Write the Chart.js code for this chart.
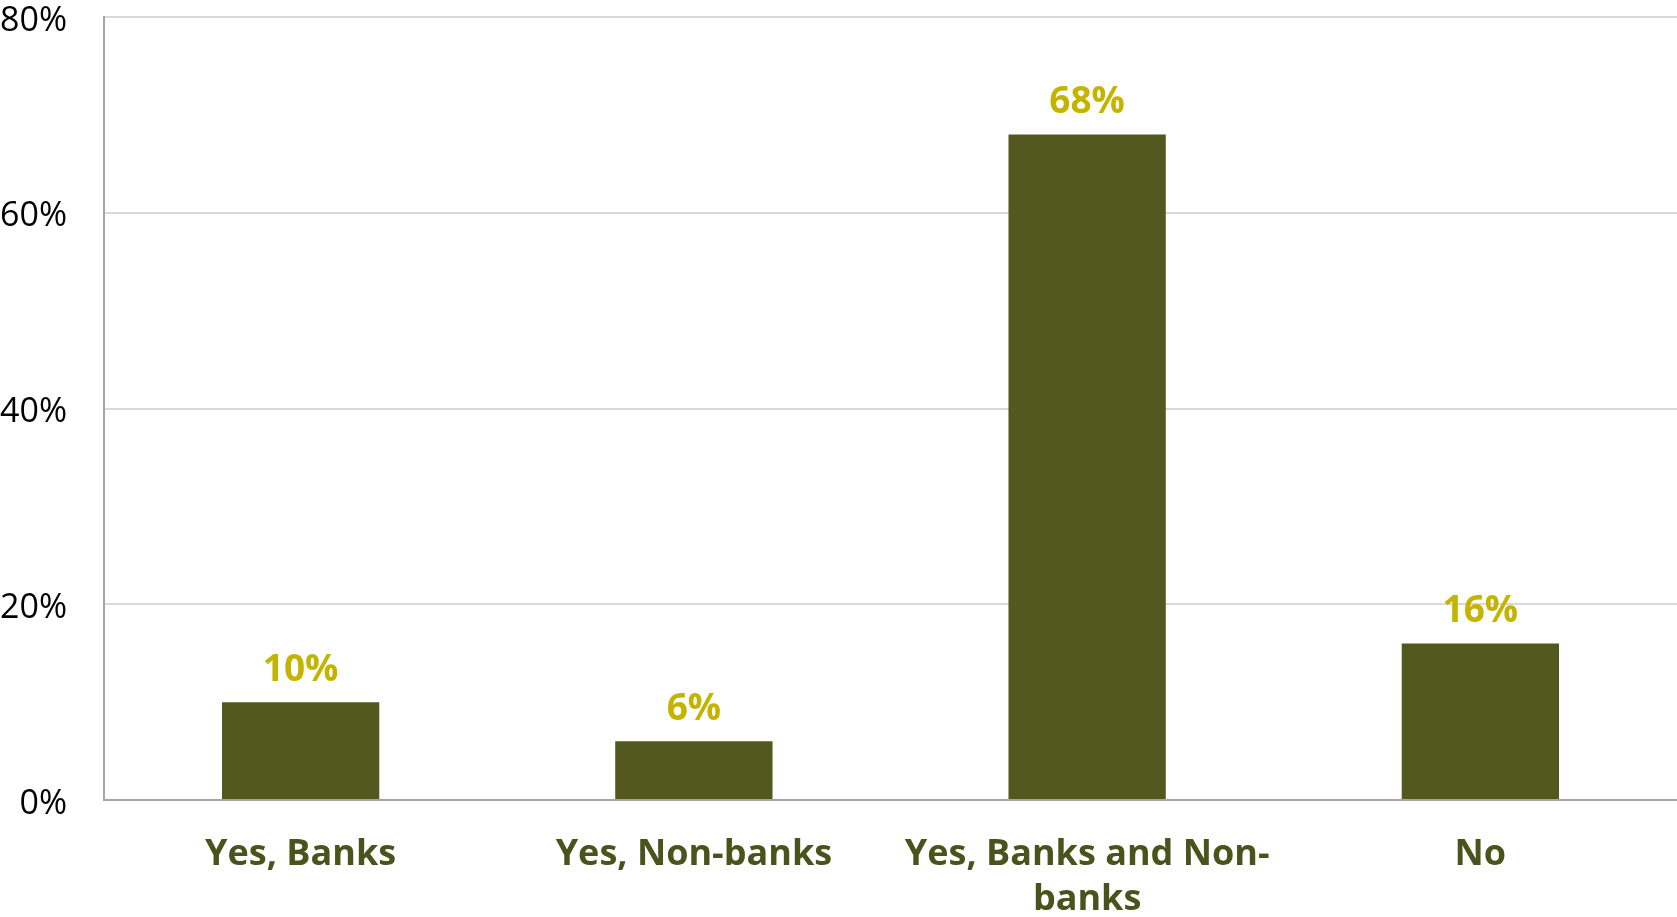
<!DOCTYPE html>
<html>
<head>
<meta charset="utf-8">
<script src="https://cdn.jsdelivr.net/npm/chart.js@4/dist/chart.umd.min.js"></script>
<style>
  html, body { margin: 0; padding: 0; background: #ffffff; }
  #wrap { width: 1677px; height: 917px; }
</style>
</head>
<body>
<div id="wrap"><canvas id="barChart" width="1677" height="917"></canvas></div>
<script>
// 数据
const categories = ["Yes, Banks", "Yes, Non-banks", ["Yes, Banks and Non-", "banks"], "No"];
const shares = [10, 6, 68, 16];
const yTicks = [0, 20, 40, 60, 80];

// 柱顶数值标签
const valueLabels = {
  id: "valueLabels",
  afterDatasetsDraw(chart) {
    const ctx = chart.ctx;
    const meta = chart.getDatasetMeta(0);
    ctx.save();
    ctx.font = "bold 37px 'Open Sans'";
    ctx.fillStyle = "#C4B400";
    ctx.textAlign = "center";
    ctx.textBaseline = "alphabetic";
    meta.data.forEach((bar, i) => {
      ctx.fillText(shares[i] + "%", bar.x, bar.y - 21);
    });
    ctx.restore();
  },
};

const barChartCanvas = document.getElementById("barChart").getContext("2d");

new Chart(barChartCanvas, {
  type: "bar",
  data: {
    labels: categories,
    datasets: [
      {
        data: shares,
        backgroundColor: "#52581E",
        borderWidth: 0,
        barPercentage: 0.4,
        categoryPercentage: 1.0,
      },
    ],
  },
  options: {
    responsive: false,
    animation: false,
    devicePixelRatio: 1,
    layout: { padding: { top: 17, right: 0, left: 0, bottom: 0 } },
    plugins: {
      legend: { display: false },
      tooltip: { enabled: false },
    },
    scales: {
      x: {
        grid: { display: false, drawTicks: false },
        border: { display: true, color: "#A6A6A6", width: 2 },
        ticks: {
          color: "#4B531C",
          font: { family: "'Open Sans'", size: 36, weight: "bold", lineHeight: 1.25 },
          padding: 32,
          maxRotation: 0,
          autoSkip: false,
        },
        afterFit(scale) {
          scale.height = 117;
          scale.paddingLeft = 0;
          scale.paddingRight = 0;
        },
      },
      y: {
        min: 0,
        max: 80,
        afterBuildTicks(scale) {
          scale.ticks = yTicks.map((v) => ({ value: v }));
        },
        grid: { color: "#D9D9D9", lineWidth: 2, drawTicks: false },
        border: { display: true, color: "#A6A6A6", width: 2 },
        ticks: {
          color: "#000000",
          font: { family: "'Open Sans'", size: 34 },
          padding: 37,
          labelOffset: 4,
          callback: (v) => v + "%",
        },
        afterFit(scale) {
          scale.width = 104;
          scale.paddingTop = 0;
          scale.paddingBottom = 0;
        },
      },
    },
  },
  plugins: [valueLabels],
});
</script>
</body>
</html>
